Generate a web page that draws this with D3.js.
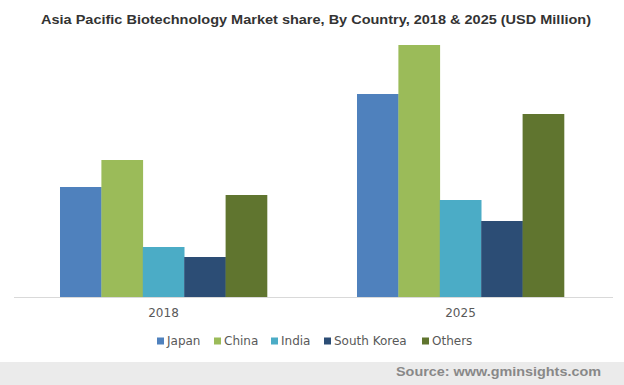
<!DOCTYPE html>
<html>
<head>
<meta charset="utf-8">
<script src="https://cdn.jsdelivr.net/npm/d3@7"></script>
<style>
  body { margin: 0; background: #fff; }
</style>
</head>
<body>
<svg id="chart"></svg>
<script>
const years = ["2018", "2025"];
const countries = ["Japan", "China", "India", "South Korea", "Others"];
const colors = ["#4f81bd", "#9bbb59", "#4bacc6", "#2c4d75", "#60752f"];
// values (relative, no value axis shown)
const japan = [110, 203];
const china = [137, 252];
const india = [50, 97];
const southKorea = [40, 76];
const others = [102, 183];

const series = [japan, china, india, southKorea, others];

const width = 624;
const height = 385;
const baseY = 297;

const svg = d3.select("#chart").attr("width", width).attr("height", height);

svg.append("text")
  .attr("x", 41)
  .attr("y", 24)
  .attr("textLength", 550)
  .attr("lengthAdjust", "spacingAndGlyphs")
  .attr("font-family", "Liberation Sans, Arial, sans-serif")
  .attr("font-weight", "bold")
  .attr("font-size", "13px")
  .attr("fill", "#333")
  .text("Asia Pacific Biotechnology Market share, By Country, 2018 & 2025 (USD Million)");

const x0 = d3.scaleBand().domain(years).range([12, 612])
  .paddingInner(0.303).paddingOuter(0.1616);
const x1 = d3.scaleBand().domain(countries).range([0, x0.bandwidth()]);
const y = d3.scaleLinear().domain([0, 252]).range([baseY, 45]);

const groups = svg.selectAll(".year")
  .data(years)
  .enter()
  .append("g")
  .attr("transform", (d) => `translate(${x0(d)},0)`);

groups.selectAll("rect")
  .data((d, i) => countries.map((c, j) => ({ country: c, value: series[j][i], color: colors[j] })))
  .enter()
  .append("rect")
  .attr("x", (d) => x1(d.country))
  .attr("y", (d) => y(d.value))
  .attr("width", x1.bandwidth() + 0.3)
  .attr("height", (d) => baseY - y(d.value))
  .attr("fill", (d) => d.color);

const xAxis = svg.append("g")
  .attr("transform", `translate(0,${baseY})`)
  .call(d3.axisBottom(x0).tickSize(0).tickSizeOuter(0).tickPadding(11));
xAxis.select(".domain").attr("stroke", "#d9d9d9").attr("d", "M14,0.5H613");
xAxis.selectAll("text")
  .attr("font-family", "DejaVu Sans, sans-serif")
  .attr("font-size", "12px")
  .attr("fill", "#595959");

const legendX = [157, 214, 271, 324, 422];
const legend = svg.selectAll(".legend")
  .data(countries)
  .enter()
  .append("g")
  .attr("transform", (d, i) => `translate(${legendX[i]},341)`);
legend.append("rect")
  .attr("x", 0).attr("y", -3.5)
  .attr("width", 7).attr("height", 7)
  .attr("fill", (d, i) => colors[i]);
legend.append("text")
  .attr("x", 10)
  .attr("dy", "0.35em")
  .attr("font-family", "DejaVu Sans, sans-serif")
  .attr("font-size", "12px")
  .attr("fill", "#595959")
  .text((d) => d);

svg.append("rect")
  .attr("x", 0).attr("y", 362)
  .attr("width", width).attr("height", 23)
  .attr("fill", "#ebebeb");
svg.append("text")
  .attr("x", 396)
  .attr("y", 376)
  .attr("textLength", 205)
  .attr("lengthAdjust", "spacingAndGlyphs")
  .attr("font-family", "Liberation Sans, Arial, sans-serif")
  .attr("font-weight", "bold")
  .attr("font-size", "13px")
  .attr("fill", "#888")
  .text("Source: www.gminsights.com");
</script>
</body>
</html>
